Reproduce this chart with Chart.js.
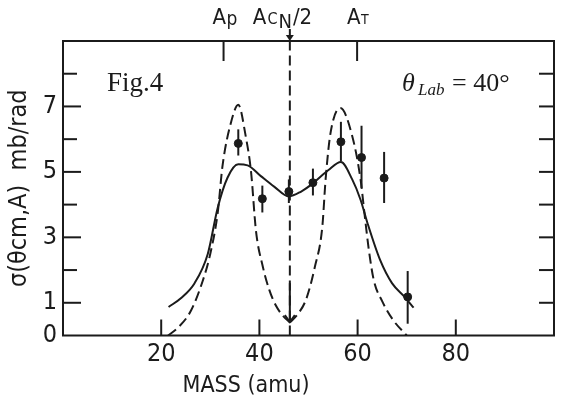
<!DOCTYPE html>
<html>
<head>
<meta charset="utf-8">
<script src="https://cdn.jsdelivr.net/npm/chart.js@4.4.1/dist/chart.umd.min.js"></script>
<style>
  html, body { margin: 0; padding: 0; background: #fff; }
  #wrap { width: 562px; height: 399px; }
</style>
</head>
<body>
<div id="wrap"><canvas id="massChart" width="562" height="399"></canvas></div>
<script>
// solid curve
const massSolid = [21.5, 24, 26.8, 29.5, 31.5, 33.5, 35.7, 37.6, 40.3, 43, 46, 48.5, 50.9, 54, 56.6, 58.9, 60.6, 62, 64.6, 67, 69.7, 71.4];
const sigmaSolid = [0.87, 1.14, 1.6, 2.5, 3.9, 4.82, 5.23, 5.2, 4.87, 4.55, 4.25, 4.4, 4.65, 5.05, 5.3, 4.77, 4.15, 3.44, 2.3, 1.6, 1.16, 0.85];

// dashed curve, left and right of the cusp
const massDashL = [21.4, 23.5, 26.1, 28.5, 30, 31.5, 32.5, 34.2, 35.7, 37.2, 38.3, 39.3, 40.7, 42, 43.3, 44.8, 46.2];
const sigmaDashL = [0, 0.25, 0.77, 1.69, 2.5, 3.74, 5.2, 6.5, 7.05, 6.1, 5.0, 3.2, 2.1, 1.4, 0.93, 0.6, 0.4];
const massDashR = [46.2, 47.8, 49.5, 51.3, 52.8, 53.5, 54.5, 56.5, 58.9, 60.6, 61.5, 62.3, 63.3, 65, 67.3, 70];
const sigmaDashR = [0.4, 0.65, 1.1, 2.1, 3.3, 4.8, 6.2, 6.95, 6.1, 4.77, 3.6, 2.6, 1.69, 1.05, 0.46, 0];

// measured points
const massData = [35.7, 40.6, 46.0, 50.9, 56.6, 60.8, 65.4, 70.2];
const sigmaData = [5.87, 4.18, 4.4, 4.67, 5.92, 5.44, 4.81, 1.18];
const errLow = [5.5, 3.76, 4.05, 4.28, 5.33, 4.51, 4.05, 0.36];
const errHigh = [6.3, 4.58, 4.77, 5.1, 6.53, 6.41, 5.61, 1.97];

// axes
const xTicks = [20, 40, 60, 80];
const yTicks = [0, 1, 3, 5, 7];
const yMinor = [2, 4, 6, 8];
const rightTicks = [1, 2, 3, 4, 5, 6, 7, 8];
const massP = 32.7;
const massT = 59.9;
const massHalf = 46.2;
const arrowFrom = 1.6;
const arrowTo = 0.41;

const ink = '#1b1b1b';
const sans = "'Liberation Sans Narrow', 'DejaVu Sans Condensed', 'Liberation Sans', sans-serif";
const serif = "'Liberation Serif', 'DejaVu Serif', serif";

function pts(xs, ys) {
    return xs.map((v, i) => ({ x: v, y: ys[i] }));
}

function line(ctx, x1, y1, x2, y2) {
    ctx.beginPath();
    ctx.moveTo(x1, y1);
    ctx.lineTo(x2, y2);
    ctx.stroke();
}

const decor = {
    id: 'decor',
    afterDatasetsDraw(chart) {
        const { ctx, chartArea: a, scales: { x, y } } = chart;
        ctx.save();
        ctx.strokeStyle = ink;
        ctx.fillStyle = ink;
        ctx.lineWidth = 2;

        // error bars
        massData.forEach((m, i) => {
            const px = x.getPixelForValue(m);
            line(ctx, px, y.getPixelForValue(errLow[i]), px, y.getPixelForValue(errHigh[i]));
        });

        // frame
        ctx.strokeRect(a.left, a.top, a.right - a.left, a.bottom - a.top);

        // inward ticks
        xTicks.forEach(v => {
            const px = x.getPixelForValue(v);
            line(ctx, px, a.bottom, px, a.bottom - 16);
        });
        [massP, massT].forEach(v => {
            const px = x.getPixelForValue(v);
            line(ctx, px, a.top, px, a.top + 20);
        });
        yTicks.forEach(v => {
            if (v === 0) return;
            const py = y.getPixelForValue(v);
            line(ctx, a.left, py, a.left + 18, py);
        });
        yMinor.forEach(v => {
            const py = y.getPixelForValue(v);
            line(ctx, a.left, py, a.left + 14, py);
        });
        rightTicks.forEach(v => {
            const py = y.getPixelForValue(v);
            line(ctx, a.right, py, a.right - 15, py);
        });

        // arrow above the frame
        const cx = x.getPixelForValue(massHalf);
        line(ctx, cx, a.top - 12, cx, a.top - 4);
        ctx.beginPath();
        ctx.moveTo(cx - 4, a.top - 6);
        ctx.lineTo(cx + 4, a.top - 6);
        ctx.lineTo(cx, a.top);
        ctx.closePath();
        ctx.fill();

        // solid arrow down to the cusp
        const y1 = y.getPixelForValue(arrowFrom);
        const y2 = y.getPixelForValue(arrowTo);
        line(ctx, cx, y1, cx, y2);
        ctx.beginPath();
        ctx.moveTo(cx - 5, y2 - 7);
        ctx.lineTo(cx, y2);
        ctx.lineTo(cx + 5, y2 - 7);
        ctx.stroke();

        // top labels
        ctx.textBaseline = 'alphabetic';
        ctx.textAlign = 'left';
        const base = 24;
        const pP = x.getPixelForValue(massP);
        ctx.font = '22px ' + sans;
        ctx.fillText('A', pP - 11, base);
        ctx.font = '19px ' + sans;
        ctx.fillText('p', pP + 3, base + 1);

        let tx = cx - 37;
        ctx.font = '22px ' + sans;
        ctx.fillText('A', tx, base);
        tx += ctx.measureText('A').width + 1;
        ctx.font = '16px ' + sans;
        ctx.fillText('C', tx, base);
        tx += ctx.measureText('C').width + 1;
        ctx.font = '20px ' + sans;
        ctx.fillText('N', tx, base + 4);
        tx += ctx.measureText('N').width + 1;
        ctx.font = '22px ' + sans;
        ctx.fillText('/2', tx, base);

        const pT = x.getPixelForValue(massT);
        ctx.font = '22px ' + sans;
        ctx.fillText('A', pT - 10, base);
        ctx.font = '14px ' + sans;
        ctx.fillText('T', pT + 4, base);

        // in-frame notes
        ctx.font = '27px ' + serif;
        ctx.fillText('Fig.4', 107, 91);
        ctx.font = 'italic 26px ' + serif;
        ctx.fillText('θ', 402, 91);
        ctx.font = 'italic 17px ' + serif;
        ctx.fillText('Lab', 418, 95);
        ctx.font = '26px ' + serif;
        ctx.fillText('= 40°', 452, 91);

        // x title
        ctx.font = '23px ' + sans;
        ctx.textAlign = 'center';
        ctx.fillText('MASS (amu)', 246, 392);
        ctx.restore();
    }
};

new Chart(document.getElementById('massChart').getContext('2d'), {
    type: 'line',
    data: {
        datasets: [
            {
                data: pts(massSolid, sigmaSolid),
                borderColor: ink, borderWidth: 2, pointRadius: 0,
                cubicInterpolationMode: 'monotone'
            },
            {
                data: pts(massDashL, sigmaDashL),
                borderColor: ink, borderWidth: 2, pointRadius: 0,
                borderDash: [10, 5], cubicInterpolationMode: 'monotone'
            },
            {
                data: pts(massDashR, sigmaDashR),
                borderColor: ink, borderWidth: 2, pointRadius: 0,
                borderDash: [10, 5], cubicInterpolationMode: 'monotone'
            },
            {
                data: [{ x: massHalf, y: 0 }, { x: massHalf, y: 9 }],
                borderColor: ink, borderWidth: 2, pointRadius: 0,
                borderDash: [10, 5]
            },
            {
                type: 'scatter',
                data: pts(massData, sigmaData),
                backgroundColor: ink, borderColor: ink,
                pointRadius: 4, pointHoverRadius: 4
            }
        ]
    },
    options: {
        responsive: false,
        animation: false,
        devicePixelRatio: 1,
        layout: { padding: { top: 41, right: 8, left: 0, bottom: 0 } },
        plugins: { legend: { display: false }, tooltip: { enabled: false } },
        scales: {
            x: {
                type: 'linear', min: 0, max: 100,
                grid: { display: false, drawTicks: false },
                border: { display: false },
                afterBuildTicks: s => { s.ticks = xTicks.map(v => ({ value: v })); },
                afterFit: s => { s.height = 63.5; },
                ticks: { color: ink, font: { family: sans, size: 25 }, padding: 4, maxRotation: 0 }
            },
            y: {
                type: 'linear', min: 0, max: 9,
                grid: { display: false, drawTicks: false },
                border: { display: false },
                afterBuildTicks: s => { s.ticks = yTicks.map(v => ({ value: v })); },
                afterFit: s => { s.width = 63; },
                ticks: { color: ink, font: { family: sans, size: 25 }, padding: 6 },
                title: {
                    display: true, text: 'σ(θcm,A)  mb/rad', color: ink,
                    font: { family: sans, size: 25 }, padding: { top: 4, bottom: 0 }
                }
            }
        }
    },
    plugins: [decor]
});
</script>
</body>
</html>
